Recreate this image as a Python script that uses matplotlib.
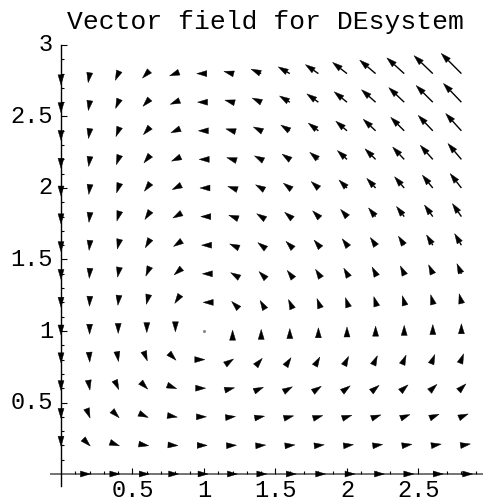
import numpy as np
import matplotlib
matplotlib.use('Agg')
import matplotlib.pyplot as plt
from matplotlib.patches import Polygon
from matplotlib.collections import LineCollection, PatchCollection

#DATA
title = 'Vector field for DEsystem'
grid_x = [0.0, 0.2, 0.4, 0.6, 0.8, 1.0, 1.2, 1.4, 1.6, 1.8, 2.0, 2.2, 2.4, 2.6, 2.8]#sample points
grid_y = [0.0, 0.2, 0.4, 0.6, 0.8, 1.0, 1.2, 1.4, 1.6, 1.8, 2.0, 2.2, 2.4, 2.6, 2.8]
xticks = [0.5, 1, 1.5, 2, 2.5]
xtick_labels = ['0.5', '1', '1.5', '2', '2.5']
yticks = [0.5, 1, 1.5, 2, 2.5, 3]
ytick_labels = ['0.5', '1', '1.5', '2', '2.5', '3']

def desystem(x, y):#the DE system: x' = x(1-y), y' = y(x-1)
    return x - x * y, x * y - y

#VISUALS
ppu = 143.0 #pixels per data unit (both axes)
fig = plt.figure(figsize=(4.83, 5.04), dpi=100)
ax = fig.add_axes([0, 0, 1, 1])
ax.set_xlim(-61 / ppu, 422 / ppu)
ax.set_ylim(-30 / ppu, 474 / ppu)
ax.axis('off')

mono = 'Liberation Mono'

#axes lines, Mathematica style crossing at origin
ax.plot([-0.07, 422 / ppu], [0, 0], color='0.45', lw=1.4, zorder=1)
ax.plot([0, 0], [-0.085, 3.0], color='black', lw=1.0, zorder=1)

#ticks
major_len = 6 / ppu
minor_len = 3 / ppu
tick_segs = []
for t in xticks:
    tick_segs.append([(t, 0), (t, major_len)])
for t in yticks:
    tick_segs.append([(0, t), (major_len, t)])
for k in range(1, 30):
    m = k / 10
    if k % 5 != 0:
        tick_segs.append([(m, 0), (m, minor_len)])
        tick_segs.append([(0, m), (minor_len, m)])
ax.add_collection(LineCollection(tick_segs, colors='black', linewidths=0.8, zorder=1))

for t, lab in zip(xticks, xtick_labels):
    ax.text(t, -0.112, lab, ha='center', va='center', fontsize=17, family=mono)
for t, lab in zip(yticks, ytick_labels):
    ax.text(-0.056, t, lab, ha='right', va='center', fontsize=17, family=mono)

ax.text(1.43, 3.112, title, ha='center', va='baseline', fontsize=19, family=mono)

#vector field
X, Y = np.meshgrid(grid_x, grid_y)
U, V = desystem(X, Y)
mag = np.hypot(U, V)
scale = 0.2 / mag.max() #longest arrow = grid spacing

head_len = 10 / ppu
head_half = 3.0 / ppu
shafts = []
heads = []
dots_x, dots_y = [], []
for x0, y0, u, v, m in zip(X.ravel(), Y.ravel(), U.ravel(), V.ravel(), mag.ravel()):
    if m == 0:
        dots_x.append(x0)
        dots_y.append(y0)
        continue
    dx, dy = u / m, v / m
    length = m * scale
    tip = (x0 + u * scale, y0 + v * scale)
    back = (tip[0] - head_len * dx, tip[1] - head_len * dy)
    nx, ny = -dy, dx
    heads.append(Polygon([tip,
                          (back[0] + head_half * nx, back[1] + head_half * ny),
                          (back[0] - head_half * nx, back[1] - head_half * ny)], closed=True))
    if length > head_len:
        shafts.append([(x0, y0), back])

ax.add_collection(LineCollection(shafts, colors='black', linewidths=1.0, zorder=3))
ax.add_collection(PatchCollection(heads, facecolor='black', edgecolor='black', linewidth=0.3, zorder=3))
ax.plot([x for x in dots_x if x > 0], [y for x, y in zip(dots_x, dots_y) if x > 0], 's', color='0.5', ms=1, zorder=3)

fig.savefig('out.png', dpi=100)
